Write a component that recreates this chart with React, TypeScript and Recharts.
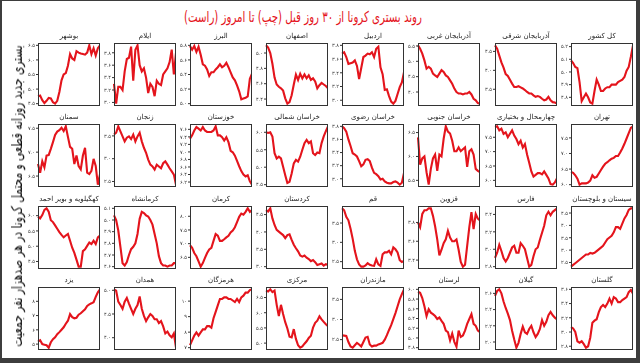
import { LineChart, Line, XAxis, YAxis } from "recharts";

// 30 days, oldest on the left
const days = Array.from({ length: 30 }, (_, i) => i + 1);

const titleText = "روند بستری کرونا از ۳۰ روز قبل (چپ) تا امروز (راست)";
const yLabel = "بستری جدید روزانه قطعی و محتمل کرونا در هر صدهزار نفر جمعیت";

// row 1
const bushehr = [4.75, 4.78, 4.62, 4.52, 4.6, 4.7, 4.68, 4.55, 4.5, 4.6, 4.9, 5.3, 5.5, 5.55, 5.8, 6.2, 6.05, 6.0, 6.3, 6.25, 6.22, 6.2, 6.18, 6.25, 6.5, 6.2, 6.4, 6.15, 6.4, 6.5];
const ilam = [3.3, 2.98, 3.25, 3.25, 3.2, 3.5, 3.7, 3.72, 3.9, 3.35, 3.85, 3.92, 3.6, 3.5, 3.55, 3.4, 3.15, 3.3, 3.25, 3.1, 3.35, 3.3, 3.28, 3.45, 3.5, 3.55, 3.65, 3.85, 3.45, 3.8];
const alborz = [5.79, 5.74, 5.79, 5.71, 5.78, 5.67, 5.54, 5.52, 5.47, 5.38, 5.43, 5.43, 5.47, 5.5, 5.54, 5.5, 5.52, 5.56, 5.5, 5.43, 5.36, 5.32, 5.25, 5.17, 5.06, 5.07, 5.08, 5.1, 5.34, 5.41];
const esfahan = [5.1, 5.07, 5.0, 4.86, 4.68, 4.59, 4.56, 4.54, 4.51, 4.41, 4.34, 4.36, 4.45, 4.59, 4.72, 4.65, 4.73, 4.67, 4.72, 4.67, 4.71, 4.65, 4.67, 4.63, 4.54, 4.58, 4.61, 4.59, 4.57, 4.54];
const ardabil = [3.68, 3.7, 3.63, 3.53, 3.54, 3.55, 3.58, 3.5, 3.31, 3.47, 3.63, 3.65, 3.68, 3.67, 3.7, 3.63, 3.75, 3.78, 3.48, 3.38, 3.15, 3.16, 3.06, 2.98, 2.95, 2.99, 3.09, 3.19, 3.26, 3.41];
const azGharbi = [5.52, 5.41, 5.25, 5.03, 4.76, 4.82, 4.76, 4.6, 4.54, 4.49, 4.6, 4.71, 4.65, 4.54, 4.49, 4.38, 4.27, 4.11, 4.0, 3.95, 3.95, 3.92, 3.95, 3.95, 4.0, 3.92, 3.78, 3.73, 3.64, 3.62];
const azSharghi = [4.66, 4.57, 4.39, 4.21, 4.07, 3.9, 3.85, 3.75, 3.65, 3.56, 3.56, 3.58, 3.55, 3.52, 3.48, 3.43, 3.39, 3.39, 3.34, 3.3, 3.32, 3.3, 3.25, 3.21, 3.23, 3.3, 3.21, 3.16, 3.15, 3.12];
const kolKeshvar = [5.09, 5.07, 5.04, 5.03, 4.92, 4.77, 4.8, 4.83, 4.8, 4.76, 4.75, 4.85, 4.94, 4.9, 4.85, 4.85, 4.87, 4.88, 4.88, 4.9, 4.9, 4.9, 4.92, 4.93, 4.94, 4.96, 5.01, 5.04, 5.12, 5.21];
// row 2
const semnan = [6.75, 6.57, 6.81, 6.68, 6.93, 6.94, 7.07, 7.21, 7.36, 7.43, 7.46, 7.51, 7.44, 7.54, 7.32, 7.11, 7.07, 6.75, 6.93, 6.71, 6.64, 6.93, 7.09, 6.57, 6.54, 6.61, 6.86, 6.71, 6.32, 6.54];
const zanjan = [3.53, 3.57, 3.71, 3.6, 3.49, 3.38, 3.46, 3.49, 3.43, 3.53, 3.38, 3.49, 3.57, 3.38, 3.24, 3.13, 2.98, 2.87, 2.83, 2.76, 2.87, 2.83, 2.79, 2.9, 2.94, 2.87, 2.79, 2.72, 2.65, 2.43];
const khuzestan = [7.35, 7.44, 7.57, 7.66, 7.62, 7.57, 7.66, 7.57, 7.53, 7.53, 7.53, 7.57, 7.68, 7.44, 7.44, 7.39, 7.3, 7.39, 7.26, 7.03, 6.99, 6.9, 6.76, 6.62, 6.49, 6.4, 6.35, 6.38, 6.22, 6.13];
const khShomali = [6.0, 5.98, 6.0, 5.88, 5.4, 5.25, 5.3, 5.25, 5.01, 4.77, 4.55, 4.58, 4.82, 5.11, 5.21, 5.16, 5.3, 5.5, 5.69, 5.78, 5.69, 5.74, 5.4, 5.35, 5.42, 5.4, 5.69, 5.88, 6.03, 6.17];
const khRazavi = [3.8, 3.77, 3.72, 3.6, 3.5, 3.39, 3.37, 3.34, 3.27, 3.19, 3.22, 3.29, 3.3, 3.27, 3.17, 3.09, 3.07, 3.04, 2.99, 3.0, 2.96, 2.94, 2.93, 2.93, 2.95, 2.96, 2.94, 2.91, 2.94, 3.09];
const khJonubi = [6.4, 5.83, 5.96, 6.0, 5.67, 5.41, 5.74, 5.96, 6.04, 5.7, 6.04, 6.0, 6.37, 6.63, 6.52, 6.48, 6.33, 6.11, 6.11, 6.19, 6.11, 6.15, 6.19, 5.78, 6.11, 6.15, 6.04, 5.74, 5.7, 5.67];
const chaharmahal = [7.86, 7.88, 7.74, 7.8, 7.62, 7.67, 7.5, 7.62, 7.74, 7.56, 7.44, 7.26, 7.38, 7.14, 7.26, 6.9, 6.61, 6.31, 6.13, 6.19, 6.25, 6.25, 6.21, 6.31, 6.19, 6.07, 5.87, 5.85, 5.93, 6.07];
const tehran = [6.41, 6.38, 6.3, 6.19, 6.0, 6.04, 6.04, 6.04, 6.07, 6.13, 6.3, 6.22, 6.25, 6.36, 6.47, 6.58, 6.67, 6.72, 6.78, 6.83, 6.86, 6.92, 6.92, 7.03, 7.16, 7.31, 7.48, 7.65, 7.82, 7.87];
// row 3
const kohgiluyeh = [5.97, 5.91, 6.02, 6.19, 6.24, 6.13, 5.85, 5.79, 5.68, 5.57, 5.46, 5.37, 5.29, 5.35, 5.4, 5.18, 4.95, 4.78, 4.56, 4.33, 4.33, 4.84, 4.9, 5.01, 5.12, 5.07, 5.18, 5.07, 5.29, 5.35];
const kermanshah = [5.04, 5.0, 4.91, 4.77, 4.63, 4.61, 4.64, 4.7, 4.75, 4.77, 4.8, 4.88, 5.01, 5.07, 5.06, 5.04, 5.03, 5.0, 4.96, 4.88, 4.8, 4.69, 4.63, 4.61, 4.61, 4.6, 4.61, 4.61, 4.63, 4.63];
const kerman = [6.94, 6.85, 6.66, 6.54, 6.35, 6.16, 6.29, 6.48, 6.66, 6.79, 6.85, 7.1, 7.35, 7.29, 7.1, 7.1, 7.16, 7.23, 7.29, 7.41, 7.48, 7.6, 7.79, 7.98, 8.1, 8.06, 8.16, 8.29, 8.16, 8.23];
const kordestan = [4.63, 4.59, 4.68, 4.39, 4.2, 4.06, 4.01, 3.96, 3.91, 3.82, 3.91, 3.93, 3.77, 3.63, 3.53, 3.44, 3.32, 3.29, 3.32, 3.26, 3.22, 3.16, 3.19, 3.13, 3.05, 3.07, 3.09, 3.03, 3.07, 3.05];
const qom = [3.88, 3.83, 3.66, 3.57, 3.35, 3.09, 2.78, 2.56, 2.43, 2.37, 2.37, 2.4, 2.46, 2.42, 2.4, 2.39, 2.56, 2.43, 2.39, 2.69, 2.74, 2.74, 2.78, 2.69, 2.87, 2.82, 2.74, 2.54, 2.49, 2.52];
const qazvin = [3.8, 3.75, 3.89, 3.93, 3.93, 3.95, 3.95, 3.87, 3.76, 3.62, 3.45, 3.51, 3.58, 3.62, 3.71, 3.64, 3.6, 3.6, 3.62, 3.51, 3.38, 3.33, 3.35, 3.55, 3.75, 3.91, 3.73, 3.89, 3.84, 3.82];
const fars = [2.9, 2.96, 3.05, 2.98, 2.9, 2.86, 2.9, 2.96, 3.02, 3.04, 2.96, 2.96, 3.07, 3.04, 3.0, 2.9, 2.8, 2.82, 2.92, 3.0, 3.02, 3.11, 3.19, 3.27, 3.39, 3.43, 3.39, 3.43, 3.45, 3.47];
const sistan = [2.33, 2.4, 2.47, 2.54, 2.61, 2.68, 2.75, 2.82, 2.82, 2.89, 2.86, 2.89, 2.96, 3.03, 3.1, 3.17, 3.31, 3.44, 3.51, 3.58, 3.72, 3.93, 3.93, 3.86, 4.07, 4.28, 4.42, 4.63, 4.69, 4.69];
// row 4
const yazd = [5.17, 5.27, 5.0, 4.96, 4.92, 4.75, 5.13, 5.34, 5.48, 5.69, 5.84, 6.01, 6.18, 6.43, 6.64, 7.1, 6.89, 6.81, 6.85, 7.06, 7.16, 7.31, 7.44, 7.68, 7.79, 7.86, 7.94, 8.31, 8.63, 8.84];
const hamedan = [5.02, 4.99, 4.76, 4.69, 4.61, 4.76, 4.84, 4.72, 4.61, 4.5, 4.61, 4.69, 4.87, 4.61, 4.46, 4.35, 4.43, 4.5, 4.46, 4.39, 4.39, 4.31, 4.35, 4.24, 4.09, 4.13, 4.05, 4.01, 4.09, 3.79];
const hormozgan = [7.16, 7.47, 7.78, 7.98, 7.78, 7.98, 8.18, 8.18, 8.39, 8.39, 8.29, 8.9, 9.31, 9.73, 10.14, 10.14, 10.24, 10.24, 10.14, 10.14, 10.04, 9.94, 10.14, 9.94, 10.24, 10.35, 10.55, 10.55, 10.71, 10.76];
const markazi = [6.73, 6.7, 6.77, 6.68, 6.73, 6.26, 5.89, 6.26, 5.96, 5.69, 5.48, 5.21, 5.19, 5.46, 5.14, 4.93, 4.85, 4.89, 4.98, 5.06, 5.17, 5.24, 5.51, 5.67, 5.74, 5.88, 5.78, 5.7, 5.62, 5.56];
const mazandaran = [2.61, 2.6, 2.59, 2.44, 2.33, 2.3, 2.36, 2.42, 2.38, 2.33, 2.44, 2.55, 2.57, 2.38, 2.33, 2.35, 2.35, 2.38, 2.4, 2.42, 2.5, 2.61, 2.74, 2.86, 3.01, 3.16, 3.33, 3.5, 3.63, 3.75];
const lorestan = [5.95, 5.93, 5.82, 5.65, 5.45, 5.59, 5.52, 5.49, 5.45, 5.39, 5.42, 5.35, 5.29, 5.15, 5.12, 4.95, 5.09, 4.92, 4.82, 5.15, 5.02, 5.05, 5.15, 5.29, 5.39, 5.49, 5.29, 5.25, 5.15, 5.12];
const gilan = [2.57, 2.63, 2.65, 2.6, 2.5, 2.42, 2.35, 2.27, 2.14, 2.03, 1.93, 1.99, 2.1, 2.19, 2.12, 2.1, 2.16, 2.2, 2.12, 2.06, 2.1, 2.16, 2.27, 2.2, 2.25, 2.33, 2.37, 2.33, 2.3, 2.28];
const golestan = [3.07, 3.05, 3.0, 2.87, 2.85, 2.87, 2.83, 2.78, 2.8, 2.92, 3.13, 3.16, 3.18, 3.28, 3.35, 3.38, 3.35, 3.4, 3.47, 3.4, 3.49, 3.47, 3.42, 3.42, 3.45, 3.47, 3.49, 3.56, 3.59, 3.54];

// panels in reading order, each row listed left to right
const panels = [
  { name: "بوشهر", values: bushehr, ticks: [4.5, 5, 5.5, 6, 6.5], dec: 1 },
  { name: "ایلام", values: ilam, ticks: [3.0, 3.2, 3.4, 3.6, 3.8], dec: 1 },
  { name: "البرز", values: alborz, ticks: [5.0, 5.2, 5.4, 5.6, 5.8], dec: 1 },
  { name: "اصفهان", values: esfahan, ticks: [4.4, 4.6, 4.8, 5.0], dec: 1 },
  { name: "اردبیل", values: ardabil, ticks: [3.0, 3.2, 3.4, 3.6, 3.8], dec: 1 },
  { name: "آذربایجان غربی", values: azGharbi, ticks: [4.0, 4.5, 5.0, 5.5], dec: 1 },
  { name: "آذربایجان شرقی", values: azSharghi, ticks: [3.5, 4.0, 4.5], dec: 1 },
  { name: "کل کشور", values: kolKeshvar, ticks: [4.8, 4.9, 5.0, 5.1, 5.2], dec: 1 },

  { name: "سمنان", values: semnan, ticks: [6.5, 7.0, 7.5], dec: 1 },
  { name: "زنجان", values: zanjan, ticks: [2.5, 3.0, 3.5], dec: 1 },
  { name: "خوزستان", values: khuzestan, ticks: [6.2, 6.4, 6.6, 6.8, 7.0, 7.2, 7.4, 7.6], dec: 1 },
  { name: "خراسان شمالی", values: khShomali, ticks: [4.5, 5.0, 5.5, 6.0], dec: 1 },
  { name: "خراسان رضوی", values: khRazavi, ticks: [3.0, 3.2, 3.4, 3.6, 3.8], dec: 1 },
  { name: "خراسان جنوبی", values: khJonubi, ticks: [5.5, 6.0, 6.5], dec: 1 },
  { name: "چهارمحال و بختیاری", values: chaharmahal, ticks: [6.0, 6.5, 7.0, 7.5], dec: 1 },
  { name: "تهران", values: tehran, ticks: [6.0, 6.5, 7.0, 7.5], dec: 1 },

  { name: "کهگیلویه و بویر احمد", values: kohgiluyeh, ticks: [4.5, 5.0, 5.5, 6.0], dec: 1 },
  { name: "کرمانشاه", values: kermanshah, ticks: [4.6, 4.7, 4.8, 4.9, 5.0, 5.1], dec: 1 },
  { name: "کرمان", values: kerman, ticks: [6.5, 7.0, 7.5, 8.0], dec: 1 },
  { name: "کردستان", values: kordestan, ticks: [3.0, 3.5, 4.0, 4.5], dec: 1 },
  { name: "قم", values: qom, ticks: [2.5, 3.0, 3.5], dec: 1 },
  { name: "قزوین", values: qazvin, ticks: [3.4, 3.6, 3.8], dec: 1 },
  { name: "فارس", values: fars, ticks: [2.8, 3.0, 3.2, 3.4], dec: 1 },
  { name: "سیستان و بلوچستان", values: sistan, ticks: [2.5, 3.0, 3.5, 4.0, 4.5], dec: 1 },

  { name: "یزد", values: yazd, ticks: [5, 6, 7, 8], dec: 0 },
  { name: "همدان", values: hamedan, ticks: [4.0, 4.5, 5.0], dec: 1 },
  { name: "هرمزگان", values: hormozgan, ticks: [7, 8, 9, 10], dec: 0 },
  { name: "مرکزی", values: markazi, ticks: [5.0, 5.5, 6.0, 6.5], dec: 1 },
  { name: "مازندران", values: mazandaran, ticks: [2.5, 3.0, 3.5], dec: 1 },
  { name: "لرستان", values: lorestan, ticks: [4.8, 5.0, 5.2, 5.4, 5.6, 5.8, 6.0], dec: 1 },
  { name: "گیلان", values: gilan, ticks: [2.0, 2.2, 2.4, 2.6], dec: 1 },
  { name: "گلستان", values: golestan, ticks: [2.8, 3.0, 3.2, 3.4, 3.6], dec: 1 },
];

const FONT = "'DejaVu Sans', sans-serif";
const RED = "#e4141c";
const AXIS_W = 18;
const BOX_W = 62;
const BOX_H = 63;
const COL_X = [38, 114, 190, 266, 342, 418, 495, 571];
const ROW_Y = [43, 124, 206, 287];

const faDigits = "۰۱۲۳۴۵۶۷۸۹";
const toFa = (s: string) => s.replace(/\d/g, (d) => faDigits[Number(d)]);

function Panel({ p, left, top }: { p: (typeof panels)[number]; left: number; top: number }) {
  const data = p.values.map((v, i) => ({ day: days[i], v }));
  const lo = Math.min(...p.values, p.ticks[0]);
  const hi = Math.max(...p.values, p.ticks[p.ticks.length - 1]);
  const pad = (hi - lo) * 0.04;
  return (
    <div style={{ position: "absolute", left: left - AXIS_W, top: top - 12, width: AXIS_W + BOX_W, height: BOX_H + 12 }}>
      <div
        style={{
          position: "absolute",
          left: AXIS_W - 10,
          top: 0,
          width: BOX_W + 20,
          textAlign: "center",
          fontSize: 7,
          lineHeight: "10px",
          color: "#222",
          whiteSpace: "nowrap",
          direction: "rtl",
        }}
      >
        {p.name}
      </div>
      <div style={{ position: "absolute", left: 0, top: 12 }}>
        <LineChart width={AXIS_W + BOX_W} height={BOX_H} data={data} margin={{ top: 0, right: 0, bottom: 0, left: 0 }}>
          <XAxis dataKey="day" hide />
          <YAxis
            domain={[lo - pad, hi + pad]}
            ticks={p.ticks}
            interval={0}
            width={AXIS_W}
            tickSize={2}
            tickMargin={1}
            axisLine={false}
            tickLine={{ stroke: "#333" }}
            tick={{ fontSize: 5, fill: "#333", fontFamily: FONT }}
            tickFormatter={(v: number) => toFa(v.toFixed(p.dec))}
          />
          <Line dataKey="v" stroke={RED} strokeWidth={2.1} dot={false} isAnimationActive={false} />
        </LineChart>
        <div
          style={{
            position: "absolute",
            left: AXIS_W,
            top: 0,
            width: BOX_W,
            height: BOX_H,
            border: "1.5px solid #333",
            boxSizing: "border-box",
            pointerEvents: "none",
          }}
        />
      </div>
    </div>
  );
}

export default function App() {
  return (
    <div style={{ position: "fixed", left: 0, top: 0, width: 640, height: 363, background: "#3d3d3d", fontFamily: FONT }}>
      <div style={{ position: "absolute", left: 2, top: 1, width: 634, height: 357, background: "#fff" }}>
        <div style={{ position: "absolute", left: 301, top: 16, width: 0, height: 0 }}>
          <div
            style={{
              position: "absolute",
              left: -220,
              top: -10,
              width: 440,
              textAlign: "center",
              fontSize: 15,
              lineHeight: "20px",
              color: RED,
              whiteSpace: "nowrap",
              direction: "rtl",
              transform: "scaleX(0.68)",
            }}
          >
            {titleText}
          </div>
        </div>
        <div style={{ position: "absolute", left: 15, top: 195, width: 0, height: 0 }}>
          <div
            style={{
              position: "absolute",
              left: -250,
              top: -10,
              width: 500,
              textAlign: "center",
              fontSize: 15,
              lineHeight: "20px",
              color: "#111",
              whiteSpace: "nowrap",
              direction: "rtl",
              transform: "rotate(-90deg) scaleX(0.71)",
            }}
          >
            {yLabel}
          </div>
        </div>
      </div>
      {panels.map((p, i) => (
        <Panel key={p.name} p={p} left={COL_X[i % 8]} top={ROW_Y[Math.floor(i / 8)]} />
      ))}
    </div>
  );
}
